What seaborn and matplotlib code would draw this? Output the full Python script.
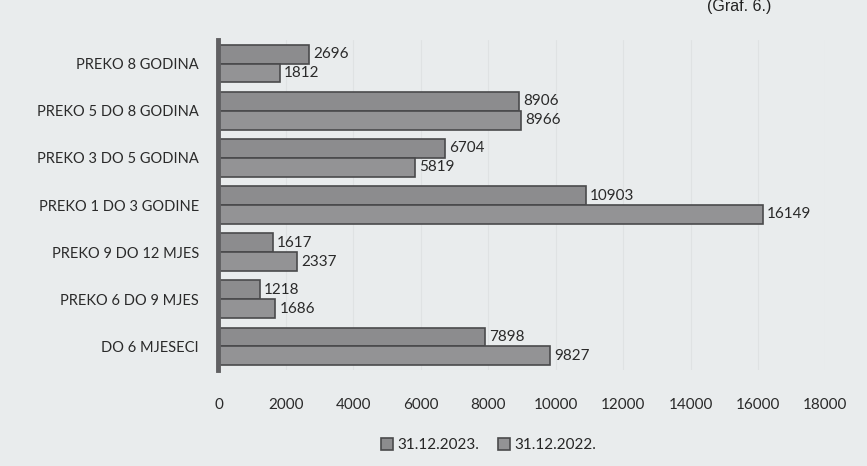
import matplotlib
matplotlib.use("Agg")
import matplotlib.pyplot as plt
import seaborn as sns
import pandas as pd

# data
categories = ["PREKO 8 GODINA", "PREKO 5 DO 8 GODINA", "PREKO 3 DO 5 GODINA",
              "PREKO 1 DO 3 GODINE", "PREKO 9 DO 12 MJES", "PREKO 6 DO 9 MJES",
              "DO 6 MJESECI"]
values_2023 = [2696, 8906, 6704, 10903, 1617, 1218, 7898]
values_2022 = [1812, 8966, 5819, 16149, 2337, 1686, 9827]
series_names = ["31.12.2023.", "31.12.2022."]
x_ticks = [0, 2000, 4000, 6000, 8000, 10000, 12000, 14000, 16000, 18000]

df = pd.DataFrame({
    "kategorija": categories * 2,
    "broj": values_2023 + values_2022,
    "datum": [series_names[0]] * len(categories) + [series_names[1]] * len(categories),
})

sns.set_style("white")
plt.rcParams["font.family"] = ["Lato", "DejaVu Sans"]

bg = "#e9eced"
fig = plt.figure(figsize=(8.67, 4.66), dpi=100, facecolor=bg)
ax = fig.add_axes([0.252, 0.206, 0.700, 0.708])
ax.set_facecolor(bg)

palette = {series_names[0]: "#8c8c8e", series_names[1]: "#939395"}
sns.barplot(data=df, y="kategorija", x="broj", hue="datum", order=categories,
            hue_order=series_names, palette=palette, orient="h", width=0.8,
            edgecolor="#4a4a4c", linewidth=1.2, saturation=1, ax=ax)

for container in ax.containers:
    ax.bar_label(container, fmt="%d", padding=3, fontsize=11, color="#2a2a2a")

ax.set_xlim(0, 18000)
ax.set_xticks(x_ticks)
ax.set_xticklabels([str(t) for t in x_ticks], fontsize=11, color="#2a2a2a")
ax.tick_params(axis="x", length=0, pad=20)
ax.tick_params(axis="y", length=0, pad=14, labelsize=10.5, labelcolor="#2a2a2a")
ax.set_xlabel("")
ax.set_ylabel("")
ax.grid(axis="x", color="#dfe2e3", linewidth=0.8)
ax.set_axisbelow(True)
for side in ["top", "right", "bottom"]:
    ax.spines[side].set_visible(False)
ax.spines["left"].set_color("#606062")
ax.spines["left"].set_linewidth(3.5)

ax.legend(loc="upper center", bbox_to_anchor=(0.445, -0.165), ncol=2, frameon=False,
          fontsize=11, handlelength=0.8, handleheight=0.8, columnspacing=1.2,
          handletextpad=0.3)

fig.text(0.853, 0.985, "(Graf. 6.)", ha="center", va="center", fontsize=11.5,
         color="#222222", family=["Liberation Sans", "DejaVu Sans"])

fig.savefig("out.png", dpi=100, facecolor=bg)
